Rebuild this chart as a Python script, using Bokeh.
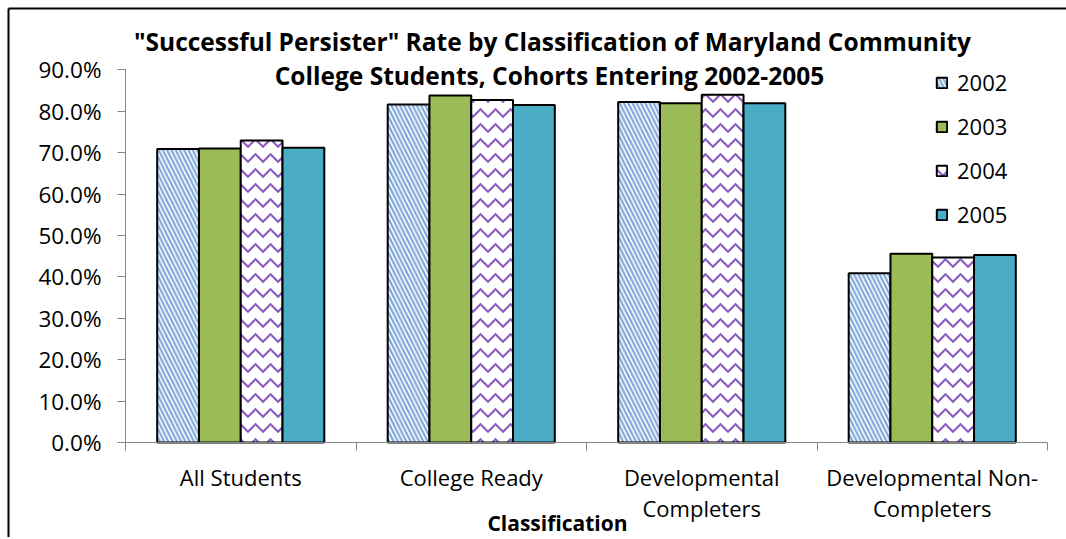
from bokeh.plotting import figure
from bokeh.models import FixedTicker, Label, Legend, LegendItem, ColumnDataSource, Range1d
from bokeh.embed import file_html
from bokeh.resources import INLINE

# ---- data ----
categories = ["All Students", "College Ready", "Developmental Completers", "Developmental Non-Completers"]
category_labels = ["All Students", "College Ready", "Developmental\nCompleters", "Developmental Non-\nCompleters"]
years = ["2002", "2003", "2004", "2005"]
rate_2002 = [70.9, 81.6, 82.2, 40.9]
rate_2003 = [71.0, 83.8, 81.9, 45.6]
rate_2004 = [72.9, 82.7, 84.0, 44.7]
rate_2005 = [71.2, 81.5, 81.9, 45.3]
y_ticks = [0, 10, 20, 30, 40, 50, 60, 70, 80, 90]
title_lines = ['"Successful Persister" Rate by Classification of Maryland Community',
               'College Students, Cohorts Entering 2002-2005']
x_title = "Classification"

series = [rate_2002, rate_2003, rate_2004, rate_2005]

FONT = "Open Sans"
GREY = "#868686"

# canvas geometry (pixels); the frame fills the whole canvas and the axes sit at fixed locations
W, H = 1066, 537
X0_PX, X1_PX = 125, 1047       # where x = 0 and x = n_categories fall
Y0_PX, Y90_PX = 442, 69.3      # where y = 0 and y = 90 fall (from top)
BORDER_PX = 8                  # chart-area border (left and top)
n = len(categories)
xs_per_px = n / (X1_PX - X0_PX)
ys_per_px = (y_ticks[-1] - y_ticks[0]) / (Y0_PX - Y90_PX)
x_range = Range1d(-X0_PX * xs_per_px, n + (W - X1_PX) * xs_per_px)
y_range = Range1d(-(H - Y0_PX) * ys_per_px, y_ticks[-1] + Y90_PX * ys_per_px)

p = figure(width=W, height=H, output_backend="svg", toolbar_location=None,
           x_range=x_range, y_range=y_range,
           min_border_left=0, min_border_right=0, min_border_top=0, min_border_bottom=0)
p.background_fill_color = "white"
p.border_fill_color = "white"
p.outline_line_color = None
p.xgrid.visible = False
p.ygrid.visible = False

# chart-area border: only its left and top edges fall inside the picture
bx = x_range.start + BORDER_PX * xs_per_px
by = y_range.end - BORDER_PX * ys_per_px
p.segment(x0=[bx, bx], y0=[by, by], x1=[x_range.end, bx], y1=[by, y_range.start],
          line_color="black", line_width=2)

group_width = 0.725
bar_w = group_width / len(years)
styles = [
    dict(fill_color="white", hatch_pattern="left_diagonal_line", hatch_color="#7EA6D8",
         hatch_scale=8.5, hatch_weight=2.2),
    dict(fill_color="#9BBB59"),
    dict(fill_color="white", hatch_pattern="horizontal_wave", hatch_color="#8A5CC0",
         hatch_scale=15, hatch_weight=2.2),
    dict(fill_color="#4BACC6"),
]

items = []
for j, (yr, vals) in enumerate(zip(years, series)):
    xs = [i + 0.5 - group_width / 2 + bar_w * (j + 0.5) for i in range(n)]
    src = ColumnDataSource(dict(x=xs, top=vals, cat=categories))
    r = p.vbar(x="x", top="top", bottom=0, width=bar_w, source=src,
               line_color="black", line_width=2, **styles[j])
    items.append(LegendItem(label=yr, renderers=[r]))

legend = Legend(items=items, location=(935, H - 229), padding=0, margin=0,
                border_line_color=None, background_fill_alpha=0,
                glyph_width=13, glyph_height=13, label_standoff=9, spacing=14,
                label_text_font=FONT, label_text_font_size="22px", label_text_color="black")
p.add_layout(legend)

# y axis
ya = p.yaxis[0]
ya.fixed_location = 0
ya.bounds = (y_ticks[0], y_ticks[-1])
ya.ticker = FixedTicker(ticks=y_ticks)
ya.major_label_overrides = {t: f"{t:.1f}%" for t in y_ticks}
ya.axis_line_color = GREY
ya.major_tick_line_color = GREY
ya.major_tick_out = 8
ya.major_tick_in = 0
ya.minor_tick_line_color = None
ya.major_label_text_font = FONT
ya.major_label_text_font_size = "22.5px"
ya.major_label_text_color = "black"
ya.major_label_standoff = 16

# x axis: labels at centres, ticks at boundaries
xa = p.xaxis[0]
xa.fixed_location = 0
xa.bounds = (0, n)
centers = [i + 0.5 for i in range(n)]
xa.ticker = FixedTicker(ticks=centers, minor_ticks=list(range(n + 1)))
xa.major_label_overrides = {c: lab for c, lab in zip(centers, category_labels)}
xa.axis_line_color = GREY
xa.major_tick_line_color = None
xa.minor_tick_line_color = GREY
xa.minor_tick_out = 8
xa.minor_tick_in = 0
xa.major_label_text_font = FONT
xa.major_label_text_font_size = "22px"
xa.major_label_text_color = "black"
xa.major_label_standoff = 11
xa.major_label_text_line_height = 1.05

# titles (screen units, measured from the frame's bottom-left = canvas bottom-left)
def add_text(x, y, text, size, bold):
    p.add_layout(Label(x=x, y=y, x_units="screen", y_units="screen", text=text,
                       text_align="center", text_baseline="middle", text_font=FONT,
                       text_font_style="bold" if bold else "normal",
                       text_font_size=size, text_color="black"))

add_text(552, H - 41, title_lines[0], "24.5px", True)
add_text(549, H - 75, title_lines[1], "24.5px", True)
add_text(557, H - 522, x_title, "21px", True)

open("out.html", "w").write(file_html(p, INLINE))
